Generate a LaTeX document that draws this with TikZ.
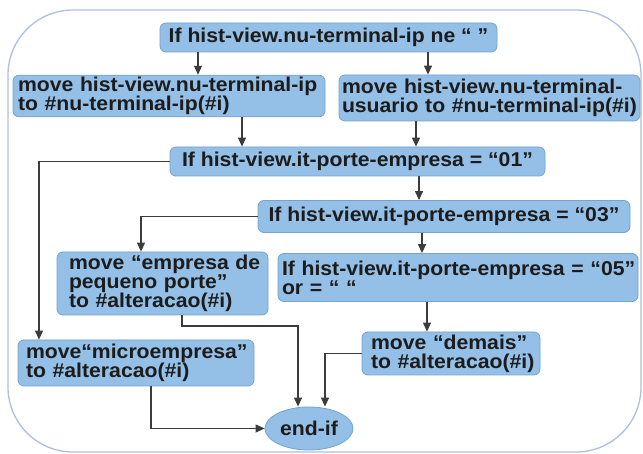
\documentclass[tikz,border=0pt]{standalone}
\usepackage{fontspec}
\setmainfont{Liberation Sans}[FakeStretch=1.06]
\usetikzlibrary{arrows.meta,shapes.geometric}

\definecolor{boxfill}{HTML}{94BFE6}
\definecolor{boxline}{HTML}{74A3D0}
\definecolor{frameline}{HTML}{AEBFDF}
\definecolor{wire}{HTML}{3C3C3C}
\definecolor{ink}{HTML}{1C1C1C}

\newcommand\flowfont{\fontsize{20}{19}\selectfont\bfseries}
% one unbreakable text line
\newcommand\rowtext[1]{\mbox{#1}}

\tikzset{
  flowbox/.style={draw=boxline, line width=0.8pt, fill=boxfill,
    rounded corners=6pt, inner ysep=2pt, text=ink, font=\flowfont},
  endbox/.style={ellipse, draw=boxline, line width=0.8pt, fill=boxfill,
    inner sep=0pt, minimum width=88pt, minimum height=43pt, text=ink, font=\flowfont},
  arr/.style={draw=wire, line width=1.2pt, -{Triangle[length=9pt,width=8pt]}},
  frame/.style={draw=frameline, line width=1.3pt, rounded corners=65pt}
}

\begin{document}
\begin{tikzpicture}[x=1pt, y=-1pt]
  \useasboundingbox (0,0) rectangle (643,454);
  \fill[white] (0,0) rectangle (643,454);

  % enclosing frame
  \draw[frame] (8,10) rectangle (641,452);

  % decision and action boxes
  \node[flowbox, minimum width=337pt, minimum height=29pt, align=center]
    (b1) at (328.5,37.5) {If hist-view.nu-terminal-ip ne “ ”};
  \node[flowbox, inner xsep=5pt, text width=302pt, minimum height=41pt, align=left]
    (b2) at (169,96) {\rowtext{move hist-view.nu-terminal-ip}\\\rowtext{to \#nu-terminal-ip(\#i)}};
  \node[flowbox, inner xsep=3pt, text width=295pt, minimum height=46pt, align=left]
    (b3) at (489.5,98) {\rowtext{move hist-view.nu-terminal-}\\\rowtext{usuario to \#nu-terminal-ip(\#i)}};
  \node[flowbox, minimum width=375pt, minimum height=29pt, align=center]
    (b4) at (357.5,161.5) {If hist-view.it-porte-empresa = “01"};
  \node[flowbox, minimum width=372pt, minimum height=32pt, align=center]
    (b5) at (444,216.5) {If hist-view.it-porte-empresa = “03"};
  \node[flowbox, inner xsep=12pt, text width=187pt, minimum height=63pt, align=left]
    (b6) at (162.5,283.5) {\rowtext{move “empresa de}\\\rowtext{pequeno porte”}\\\rowtext{to \#alteracao(\#i)}};
  \node[flowbox, inner xsep=4pt, text width=352pt, minimum height=48pt, align=left]
    (b7) at (458,277.5) {\rowtext{If hist-view.it-porte-empresa = “05"}\\\rowtext{or = “ “}};
  \node[flowbox, inner xsep=8pt, text width=220pt, minimum height=46pt, align=left]
    (b8) at (136,363) {\rowtext{move“microempresa”}\\\rowtext{to \#alteracao(\#i)}};
  \node[flowbox, inner xsep=9pt, text width=160pt, minimum height=43pt, align=left]
    (b9) at (451,353.5) {\rowtext{move “demais”}\\\rowtext{to \#alteracao(\#i)}};
  \node[endbox] (end) at (309,428.5) {end-if};

  % connectors
  \draw[arr] (b1.south -| 198,0) -- (b2.north -| 198,0);
  \draw[arr] (b1.south -| 428,0) -- (b3.north -| 428,0);
  \draw[arr] (b2.south -| 242,0) -- (b4.north -| 242,0);
  \draw[arr] (b3.south -| 416,0) -- (b4.north -| 416,0);
  \draw[arr] (b4.west) -| (b8.north -| 39,0);
  \draw[arr] (b4.south -| 419,0) -- (b5.north -| 419,0);
  \draw[arr] (b5.west) -| (b6.north -| 141,0);
  \draw[arr] (b5.south -| 422,0) -- (b7.north -| 422,0);
  \draw[arr] (b7.south -| 427,0) -- (b9.north -| 427,0);
  \draw[arr] (b6.south -| 182,0) |- (298,326) -- (end.north -| 298,0);
  \draw[arr] (b9.west) -| (end.north -| 325,0);
  \draw[arr] (b8.south -| 151,0) |- (end.west);
\end{tikzpicture}
\end{document}
